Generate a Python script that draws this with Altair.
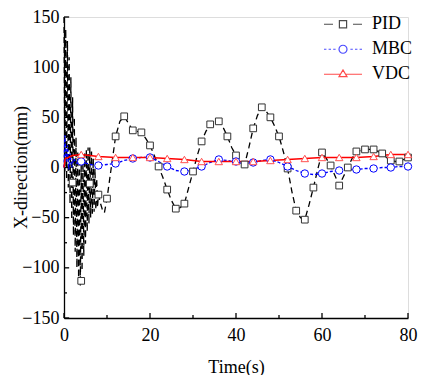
import altair as alt
import pandas as pd

# ---------------- data ----------------
series_names = ["PID", "MBC", "VDC"]
series_colors = ["#000000", "#0000ff", "#ff0000"]

# PID line (fast oscillation at start, then slow wave)
pid_t = [0.0, 0.2, 0.4, 0.6, 0.8, 1.0, 1.2, 1.4, 1.6, 1.8, 2.0, 2.2, 2.4, 2.6, 2.8,
         3.0, 3.2, 3.4, 3.6, 3.8, 4.0, 4.2, 4.4, 4.6, 4.8, 5.0, 5.2, 5.4, 5.6, 5.8,
         6.0, 6.2, 6.4, 6.6, 6.8, 7.0, 7.2, 7.4, 7.6, 7.8, 8.0, 8.5, 9.0, 9.4, 10,
         11, 12, 13, 14, 15, 16, 17, 18, 19, 20, 21, 22, 23, 24, 25, 26, 27, 28, 29,
         30, 31, 32, 33, 34, 35, 36, 37, 38, 39, 40, 41, 42, 43, 44, 45, 46, 47, 48,
         49, 50, 51, 52, 53, 54, 55, 56, 57, 58, 59, 60, 61, 62, 63, 64, 65, 66, 67,
         68, 69, 70, 71, 72, 73, 74, 75, 76, 77, 78, 79, 80]
pid_v = [150, -4, 138, -12, 126, -20, 110, -36, 90, -52, 70, -68, 50, -84, 30,
         -100, 15, -110, 5, -118, 5, -103, 10, -88, 14, -76, 18, -64, 20, -56,
         20, -50, 16, -46, 9, -44, -1, -42, -11, -40, -27, -36, -43, -45, -31,
         0, 31, 46, 51, 44, 37, 36, 35, 29, 22, 12, 1, -10, -22, -33, -41, -40, -36, -20,
         -4, 12, 26, 36, 43, 46, 46, 40, 31, 20, 12, 5, 3, 20, 39, 52, 60, 56, 50,
         41, 31, 16, -1, -24, -43, -50, -52, -37, -20, -2, 15, 9, 2, -8, -18, -9, 0, 9,
         16, 17, 18, 18, 18, 16, 14, 10, 7, 6, 6, 8, 10]

# PID square markers
pid_mt = [2, 4, 6, 8, 10, 12, 14, 16, 18, 20, 22, 24, 26, 28, 30, 32, 34, 36, 38, 40,
          42, 44, 46, 48, 50, 52, 54, 56, 58, 60, 62, 64, 66, 68, 70, 72, 74, 76, 78, 80]
pid_mv = [-15, -113, -16, -27, -31, 31, 51, 37, 35, 22, 1, -22, -41, -36, -4, 26, 43, 46, 31, 12,
          3, 39, 60, 50, 31, -1, -43, -52, -20, 15, 2, -18, 0, 16, 18, 18, 14, 7, 6, 10]

# MBC line
mbc_t = [0, 0.2, 0.5, 0.8, 1.1, 1.4, 1.8, 2.2, 3, 4, 6, 8, 10, 12, 14, 16, 18, 20, 22, 24,
         26, 28, 30, 32, 34, 36, 38, 40, 42, 44, 46, 48, 50, 52, 54, 56, 58, 60, 62, 64,
         66, 68, 70, 72, 74, 76, 78, 80]
mbc_v = [0, 32, 5, 22, -2, 14, 0, 9, 4, 6, 3, 2, 3, 4, 7, 9, 10, 10, 6, 1,
         -3, -4, -2, 1, 5, 8, 7, 5, 4, 5, 7, 8, 5, 1, -3, -6, -7, -6, -4, -3,
         -2, -2, -1, -1, 0, 0, 1, 1]
# MBC circle markers
mbc_mt = [4, 8, 12, 16, 20, 24, 28, 32, 36, 40, 44, 48, 52, 56, 60, 64, 68, 72, 76, 80]
mbc_mv = [6, 2, 4, 9, 10, 1, -4, 1, 8, 6, 5, 8, 1, -6, -6, -3, -2, -1, 0, 1]

# VDC line
vdc_t = [0, 0.3, 1, 2, 4, 6, 8, 12, 16, 20, 24, 28, 32, 36, 40, 44, 48, 52, 56, 60,
         64, 68, 72, 76, 80]
vdc_v = [0, 9, 10, 12, 13, 12, 11, 10, 10, 10, 9, 8, 6, 6, 6, 6, 7, 8, 9, 10,
         10, 10, 11, 13, 13]
# VDC triangle markers
vdc_mt = [4, 8, 12, 16, 20, 24, 28, 32, 36, 40, 44, 48, 52, 56, 60, 64, 68, 72, 76, 80]
vdc_mv = [13, 11, 10, 10, 10, 9, 8, 6, 6, 6, 6, 7, 8, 9, 10, 10, 10, 11, 13, 13]

# axis ticks
x_major = [0, 20, 40, 60, 80]
x_minor = [10, 30, 50, 70]
y_major = [-150, -100, -50, 0, 50, 100, 150]
y_minor = [-125, -75, -25, 25, 75, 125]

# legend symbol paths (line + marker)
legend_paths = [
    "M-0.95,0H-0.5M-0.18,-0.18H0.18V0.18H-0.18ZM0.5,0H0.95",
    "M-0.95,0H-0.83M-0.72,0H-0.6M-0.49,0H-0.37M-0.2,0A0.2,0.2,0,1,0,0.2,0A0.2,0.2,0,1,0,-0.2,0Z"
    "M0.37,0H0.49M0.6,0H0.72M0.83,0H0.95",
    "M-0.95,0H-0.14M-0.2,0.12L0.2,0.12L0,-0.22ZM0.14,0H0.95",
]

FONT = "Liberation Serif"

xscale = alt.Scale(domain=[0, 80], nice=False, zero=False)
yscale = alt.Scale(domain=[-150, 150], nice=False, zero=False)

xaxis = alt.Axis(values=x_major, ticks=False, grid=False, labelPadding=8,
                 labelFontSize=18, labelFont=FONT, labelColor="black",
                 title="Time(s)", titleFont=FONT, titleFontSize=18, titleFontWeight="normal",
                 titleColor="black", titleBaseline="alphabetic", titleY=54,
                 domainColor="black", domainWidth=1.3, labelFlush=False)
yaxis = alt.Axis(values=y_major, ticks=False, grid=False, labelPadding=5,
                 labelFontSize=18, labelFont=FONT, labelColor="black",
                 title="X-direction(mm)", titleFont=FONT, titleFontSize=18,
                 titleFontWeight="normal", titleColor="black", titleX=-34, titleY=150,
                 titleAngle=-90, titleBaseline="bottom",
                 domainColor="black", domainWidth=1.3, labelFlush=False)

X = alt.X("t:Q", scale=xscale, axis=xaxis)
Y = alt.Y("v:Q", scale=yscale, axis=yaxis)


def df(t, v):
    return pd.DataFrame({"t": t, "v": v, "o": list(range(len(t)))})


pid_line = alt.Chart(df(pid_t, pid_v)).mark_line(
    color="black", strokeWidth=1.3, strokeDash=[6, 4]).encode(x=X, y=Y, order="o:Q")
mbc_line = alt.Chart(df(mbc_t, mbc_v)).mark_line(
    color="#0000ff", strokeWidth=1.3, strokeDash=[3, 2]).encode(x=X, y=Y, order="o:Q")
vdc_line = alt.Chart(df(vdc_t, vdc_v)).mark_line(
    color="#ff0000", strokeWidth=1.5).encode(x=X, y=Y, order="o:Q")

pid_pts = alt.Chart(df(pid_mt, pid_mv)).mark_point(
    shape="square", size=45, filled=False, fill="white", fillOpacity=1,
    stroke="#333333", strokeWidth=1, opacity=1).encode(x=X, y=Y)
mbc_pts = alt.Chart(df(mbc_mt, mbc_mv)).mark_point(
    shape="circle", size=55, filled=False, fill="white", fillOpacity=1,
    stroke="#0000ff", strokeWidth=1, opacity=1).encode(x=X, y=Y)
vdc_pts = alt.Chart(df(vdc_mt, vdc_mv)).mark_point(
    shape="triangle-up", size=55, filled=False, fill="white", fillOpacity=1,
    stroke="#ff5050", strokeWidth=1, opacity=1).encode(x=X, y=Y)

# inward ticks drawn as rules through the scales
xt = pd.DataFrame({"t": x_major + x_minor,
                   "y0": [-150] * (len(x_major) + len(x_minor)),
                   "y1": [-145] * len(x_major) + [-147] * len(x_minor)})
yt = pd.DataFrame({"v": y_major + y_minor,
                   "x0": [0] * (len(y_major) + len(y_minor)),
                   "x1": [1.2] * len(y_major) + [0.7] * len(y_minor)})
xticks = alt.Chart(xt).mark_rule(color="black", strokeWidth=1.3).encode(
    x=X, y=alt.Y("y0:Q", scale=yscale, axis=yaxis), y2="y1:Q")
yticks = alt.Chart(yt).mark_rule(color="black", strokeWidth=1.3).encode(
    y=alt.Y("v:Q", scale=yscale, axis=yaxis), x=alt.X("x0:Q", scale=xscale, axis=xaxis), x2="x1:Q")

leg = alt.Legend(title=None, orient="none", legendX=258, legendY=-4, padding=0,
                 symbolSize=1600, symbolStrokeWidth=1.2, clipHeight=22.5, rowPadding=2,
                 labelOffset=8, labelFont=FONT, labelFontSize=18, labelColor="black",
                 labelLimit=200, symbolFillColor="transparent")
legend_layer = alt.Chart(pd.DataFrame({"series": series_names})).mark_point(
    filled=False, size=1600, strokeWidth=1.2).encode(
    shape=alt.Shape("series:N", scale=alt.Scale(domain=series_names, range=legend_paths),
                    legend=leg, sort=series_names),
    color=alt.Color("series:N", scale=alt.Scale(domain=series_names, range=series_colors),
                    legend=leg, sort=series_names),
).transform_filter(alt.datum.series == "__none__")

chart = alt.layer(
    xticks, yticks, pid_line, mbc_line, vdc_line, pid_pts, mbc_pts, vdc_pts, legend_layer
).properties(
    width=344, height=301,
    autosize=alt.AutoSizeParams(type="none"),
    padding={"left": 56, "top": 9, "right": 14, "bottom": 57},
).configure_view(stroke=None).configure(background="white")

chart.save("out.html", embed_options={"renderer": "svg", "actions": False})
